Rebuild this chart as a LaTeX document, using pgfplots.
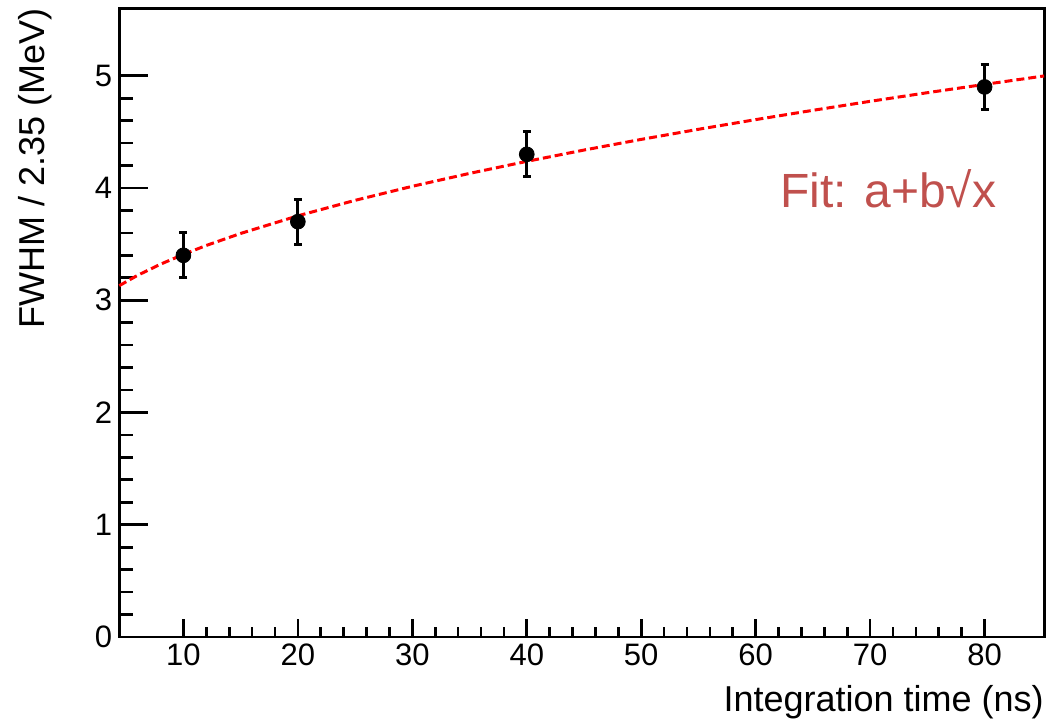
\documentclass[border=0pt]{standalone}
\usepackage{fontspec}
\setmainfont{Liberation Sans}
\usepackage{pgfplots}
\pgfplotsset{compat=1.18}
\definecolor{fitred}{RGB}{192,80,77}
\begin{document}
\begin{tikzpicture}
\pgfplotsset{
  common/.style={
    scale only axis, width=462.4pt, height=314.3pt,
    at={(0,0)}, anchor=south west,
    xmin=4.4, xmax=85.2, ymin=0, ymax=5.6,
    axis line style={line width=1.4pt},
    every tick/.style={line width=1.35pt, black},
    tick align=inside,
    /pgf/number format/assume math mode=true,
    ticklabel style={font=\fontsize{15.5}{16}\selectfont},
    label style={font=\fontsize{18}{20}\selectfont},
  }
}
\begin{axis}[common,
  xtick=\empty,
  ytick={0,1,2,3,4,5}, minor y tick num=4, ytick pos=left,
  major tick length=14.5pt, minor tick length=7pt,
  ylabel={FWHM / 2.35 (MeV)},
  ylabel style={at={([xshift=-37.5pt]axis description cs:0,1)}, anchor=base east, inner sep=0pt, rotate=0},
]
\end{axis}
\begin{axis}[common,
  hide y axis,
  xtick={10,20,30,40,50,60,70,80}, minor x tick num=4, xtick pos=left,
  major tick length=9pt, minor tick length=5pt,
  xlabel={Integration time (ns)},
  xlabel style={at={([yshift=-37.5pt]axis description cs:1,0)}, anchor=base east, inner sep=0pt},
  clip=false,
]
\addplot[red, dash pattern=on 4pt off 2pt, line width=1.5pt] coordinates {
 (4.4,3.130) (6,3.222) (8,3.321) (10,3.408) (12,3.488) (15,3.595)
 (20,3.752) (25,3.890) (30,4.015) (35,4.130) (40,4.237) (45,4.338)
 (50,4.433) (55,4.523) (60,4.609) (65,4.692) (70,4.772) (75,4.849)
 (80,4.923) (85.2,4.998)
};
\addplot[only marks, mark=*, mark size=3.7pt, black,
  error bars/.cd, y dir=both, y explicit,
  error bar style={line width=1.4pt, black},
  error mark options={rotate=90, mark size=2pt, line width=1.4pt, black}]
 coordinates {
 (10,3.4) +- (0,0.2)
 (20,3.7) +- (0,0.2)
 (40,4.3) +- (0,0.2)
 (80,4.9) +- (0,0.2)
};
\node[anchor=base west, inner sep=0pt, text=fitred, font=\fontsize{24}{28}\selectfont] at (axis cs:62.1,3.822) {Fit: a+b√x};
\end{axis}
\pgfresetboundingbox
\useasboundingbox (-59.65pt,-42pt) rectangle (465.85pt,318.5pt);
\end{tikzpicture}
\end{document}
